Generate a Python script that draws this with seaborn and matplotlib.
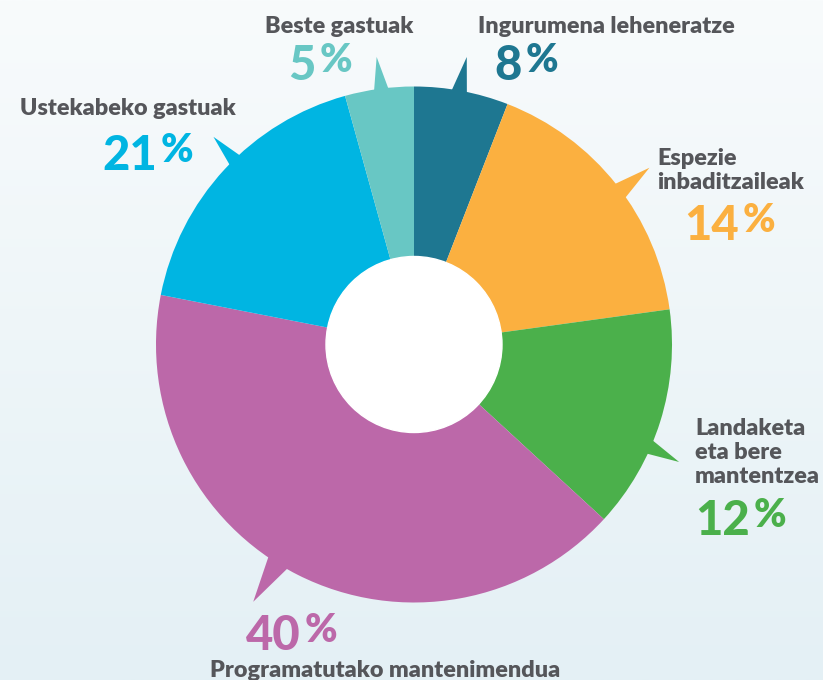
import numpy as np
import matplotlib
matplotlib.use("Agg")
import matplotlib.pyplot as plt
import seaborn as sns
from matplotlib.patches import Circle, Polygon

# --- Data ---
categories = ["Ingurumena leheneratze", "Espezie inbaditzaileak",
              "Landaketa eta bere mantentzea", "Programatutako mantenimendua",
              "Ustekabeko gastuak", "Beste gastuak"]
percent_labels = [8, 14, 12, 40, 21, 5]
# wedge sizes as drawn in the picture (the drawing is not exactly proportional)
wedge_share = [5.9, 16.9, 14.0, 41.2, 17.6, 4.3]
colors = ["#1e7791", "#fbb040", "#4bb04b", "#bc68a9", "#00b5e2", "#68c7c4"]

# --- Layout (pixel positions of labels in an 823x680 canvas) ---
W, H = 823, 680
CX, CY, R = 414, 344.5, 258

def px(x, y):
    return (x - CX) / R, (CY - y) / R

# name lines: (text lines, x, baselines, ha)
name_layout = [
    (["Ingurumena leheneratze"], 606, [33], "center"),
    (["Espezie", "inbaditzaileak"], 657, [165, 189], "left"),
    (["Landaketa", "eta bere", "mantentzea"], 695, [435, 459, 483], "left"),
    (["Programatutako mantenimendua"], 385, [677], "center"),
    (["Ustekabeko gastuak"], 20, [115], "left"),
    (["Beste gastuak"], 339, [33], "center"),
]
# percent: split x between number and '%', baseline of number
pct_layout = [(525, 80), (742, 240), (753, 535), (304, 650), (160, 170), (319, 80)]
# pointer triangles: base angles (deg) and tip (angle, radius)
pointers = [(82.0, 77.8, 79.6, 1.133), (39.0, 34.3, 36.9, 1.141),
            (-21.4, -25.4, -23.9, 1.124), (235.1, 241.0, 238.0, 1.176),
            (132.3, 136.2, 134.0, 1.119), (99.3, 95.3, 97.4, 1.124)]

sns.set_theme(style="white")
plt.rcParams['font.family'] = ['Lato', 'DejaVu Sans']

fig = plt.figure(figsize=(W / 100, H / 100), dpi=100)
ax = fig.add_axes([0, 0, 1, 1])
xlim = (-CX / R, (W - CX) / R)
ylim = (-(H - CY) / R, CY / R)

# background gradient
grad = np.linspace(0, 1, 256).reshape(-1, 1)
top = np.array(matplotlib.colors.to_rgb("#f8fbfc"))
bot = np.array(matplotlib.colors.to_rgb("#e4f0f5"))
img = top + (bot - top) * grad[:, :, None]
ax.imshow(img, extent=[xlim[0], xlim[1], ylim[0], ylim[1]],
          aspect="auto", origin="upper", zorder=0)

# pie
wedges, _ = ax.pie(wedge_share, colors=colors, startangle=90, counterclock=False,
                   radius=1, center=(0, 0), wedgeprops=dict(linewidth=0), frame=True)
for w in wedges:
    w.set_zorder(2)
ax.set_xlim(*xlim)
ax.set_ylim(*ylim)
ax.axis("off")
ax.add_patch(Circle((0, 0), 88 / R, color="white", zorder=4))

# speech-bubble pointers
for (a1, a2, ta, tr), col in zip(pointers, colors):
    r0 = 0.97
    pts = [(r0 * np.cos(np.radians(a1)), r0 * np.sin(np.radians(a1))),
           (tr * np.cos(np.radians(ta)), tr * np.sin(np.radians(ta))),
           (r0 * np.cos(np.radians(a2)), r0 * np.sin(np.radians(a2)))]
    ax.add_patch(Polygon(pts, closed=True, color=col, lw=0, zorder=3))

gray = "#55565a"
for (lines, x, ys, ha) in name_layout:
    for line, y in zip(lines, ys):
        ax.text(*px(x, y), line, ha=ha, va="baseline", fontsize=16.8,
                fontweight="heavy", color=gray, zorder=5)

for val, (sx, by), col in zip(percent_labels, pct_layout, colors):
    ax.text(*px(sx - 3, by), str(val), ha="right", va="baseline", fontsize=34,
            fontweight="black", color=col, zorder=5)
    ax.text(*px(sx + 1, by - 8), "%", ha="left", va="baseline", fontsize=28,
            fontweight="heavy", color=col, zorder=5)

fig.savefig("out.png", dpi=100)
